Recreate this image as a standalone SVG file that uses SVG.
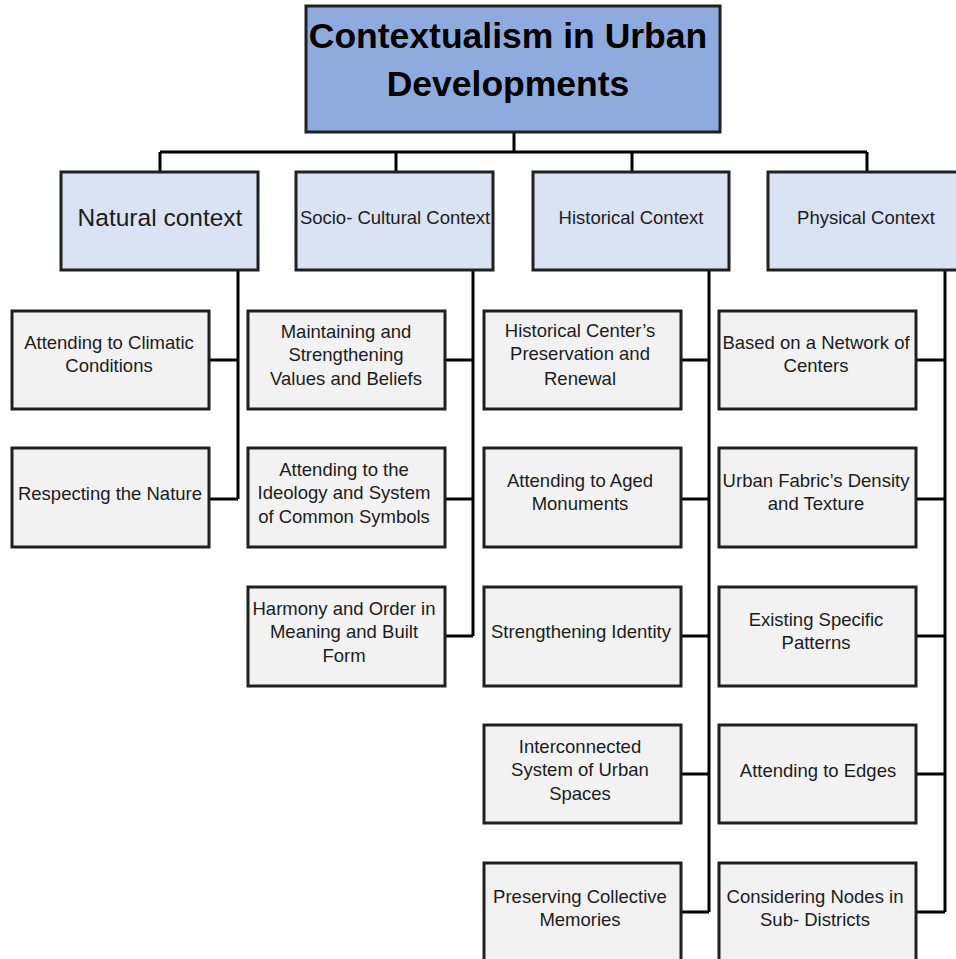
<svg xmlns="http://www.w3.org/2000/svg" width="956" height="959" viewBox="0 0 956 959">
  <style>
    .bg { fill: #ffffff; }
    .box { stroke: #202020; stroke-width: 3; }
    .root { fill: #8faadc; }
    .head { fill: #dae3f3; }
    .leaf { fill: #f2f2f2; }
    .wire { fill: none; stroke: #000000; stroke-width: 3; }
    text { font-family: "Liberation Sans", Arial, sans-serif; fill: #1c1c1c; text-anchor: middle; }
    .t-root { font-size: 35.5px; font-weight: bold; fill: #000000; }
    .t-head { font-size: 18.5px; }
    .t-big { font-size: 24.5px; }
    .t-leaf { font-size: 18.5px; }
  </style>

  <rect class="bg" x="0" y="0" width="956" height="959"/>

  <!-- connectors -->
  <g id="connectors">
    <!-- root to category bus -->
    <path class="wire" d="M514 132 V152 M160 152 H867 M160 152 V172 M396 152 V172 M632 152 V172 M867 152 V172"/>
    <!-- natural spine -->
    <path class="wire" d="M238 270 V499 M209 360 H238 M209 499 H238"/>
    <!-- socio-cultural spine -->
    <path class="wire" d="M473 270 V636 M445 360 H473 M445 499 H473 M445 636 H473"/>
    <!-- historical spine -->
    <path class="wire" d="M709 270 V912 M681 360 H709 M681 499 H709 M681 636 H709 M681 774 H709 M681 912 H709"/>
    <!-- physical spine -->
    <path class="wire" d="M945 270 V912 M916 360 H945 M916 499 H945 M916 636 H945 M916 774 H945 M916 912 H945"/>
  </g>

  <!-- root -->
  <g id="root">
    <rect class="box root" x="306" y="6" width="414" height="126"/>
    <text class="t-root" x="508" y="48">Contextualism in Urban</text>
    <text class="t-root" x="508" y="96">Developments</text>
  </g>

  <!-- categories -->
  <g id="natural">
    <rect class="box head" x="61" y="172" width="197" height="98"/>
    <text class="t-big" x="160" y="226">Natural context</text>
  </g>
  <g id="socio-cultural">
    <rect class="box head" x="296" y="172" width="197" height="98"/>
    <text class="t-head" x="395" y="224">Socio- Cultural Context</text>
  </g>
  <g id="historical">
    <rect class="box head" x="533" y="172" width="196" height="98"/>
    <text class="t-head" x="631" y="224">Historical Context</text>
  </g>
  <g id="physical">
    <rect class="box head" x="768" y="172" width="197" height="98"/>
    <text class="t-head" x="866" y="224">Physical Context</text>
  </g>

  <!-- natural items -->
  <g id="climatic">
    <rect class="box leaf" x="12" y="311" width="197" height="98"/>
    <text class="t-leaf" x="109" y="349">Attending to Climatic</text>
    <text class="t-leaf" x="109" y="372">Conditions</text>
  </g>
  <g id="nature">
    <rect class="box leaf" x="12" y="448" width="197" height="99"/>
    <text class="t-leaf" x="110" y="500">Respecting the Nature</text>
  </g>

  <!-- socio-cultural items -->
  <g id="values">
    <rect class="box leaf" x="248" y="311" width="197" height="98"/>
    <text class="t-leaf" x="346" y="338">Maintaining and</text>
    <text class="t-leaf" x="346" y="361">Strengthening</text>
    <text class="t-leaf" x="346" y="385">Values and Beliefs</text>
  </g>
  <g id="symbols">
    <rect class="box leaf" x="248" y="448" width="197" height="99"/>
    <text class="t-leaf" x="344" y="476">Attending to the</text>
    <text class="t-leaf" x="344" y="499">Ideology and System</text>
    <text class="t-leaf" x="344" y="523">of Common Symbols</text>
  </g>
  <g id="harmony">
    <rect class="box leaf" x="248" y="587" width="197" height="99"/>
    <text class="t-leaf" x="344" y="615">Harmony and Order in</text>
    <text class="t-leaf" x="344" y="638">Meaning and Built</text>
    <text class="t-leaf" x="344" y="662">Form</text>
  </g>

  <!-- historical items -->
  <g id="center-renewal">
    <rect class="box leaf" x="484" y="311" width="197" height="98"/>
    <text class="t-leaf" x="580" y="337">Historical Center’s</text>
    <text class="t-leaf" x="580" y="360">Preservation and</text>
    <text class="t-leaf" x="580" y="385">Renewal</text>
  </g>
  <g id="monuments">
    <rect class="box leaf" x="484" y="448" width="197" height="99"/>
    <text class="t-leaf" x="580" y="487">Attending to Aged</text>
    <text class="t-leaf" x="580" y="510">Monuments</text>
  </g>
  <g id="identity">
    <rect class="box leaf" x="484" y="587" width="197" height="99"/>
    <text class="t-leaf" x="581" y="638">Strengthening Identity</text>
  </g>
  <g id="urban-spaces">
    <rect class="box leaf" x="484" y="725" width="197" height="98"/>
    <text class="t-leaf" x="580" y="753">Interconnected</text>
    <text class="t-leaf" x="580" y="776">System of Urban</text>
    <text class="t-leaf" x="580" y="800">Spaces</text>
  </g>
  <g id="memories">
    <rect class="box leaf" x="484" y="863" width="197" height="110"/>
    <text class="t-leaf" x="580" y="903">Preserving Collective</text>
    <text class="t-leaf" x="580" y="926">Memories</text>
  </g>

  <!-- physical items -->
  <g id="network">
    <rect class="box leaf" x="719" y="311" width="197" height="98"/>
    <text class="t-leaf" x="816" y="349">Based on a Network of</text>
    <text class="t-leaf" x="816" y="372">Centers</text>
  </g>
  <g id="fabric">
    <rect class="box leaf" x="719" y="448" width="197" height="99"/>
    <text class="t-leaf" x="816" y="487">Urban Fabric’s Density</text>
    <text class="t-leaf" x="816" y="510">and Texture</text>
  </g>
  <g id="patterns">
    <rect class="box leaf" x="719" y="587" width="197" height="99"/>
    <text class="t-leaf" x="816" y="626">Existing Specific</text>
    <text class="t-leaf" x="816" y="649">Patterns</text>
  </g>
  <g id="edges">
    <rect class="box leaf" x="719" y="725" width="197" height="98"/>
    <text class="t-leaf" x="818" y="777">Attending to Edges</text>
  </g>
  <g id="nodes">
    <rect class="box leaf" x="719" y="863" width="197" height="110"/>
    <text class="t-leaf" x="815" y="903">Considering Nodes in</text>
    <text class="t-leaf" x="815" y="926">Sub- Districts</text>
  </g>
</svg>
